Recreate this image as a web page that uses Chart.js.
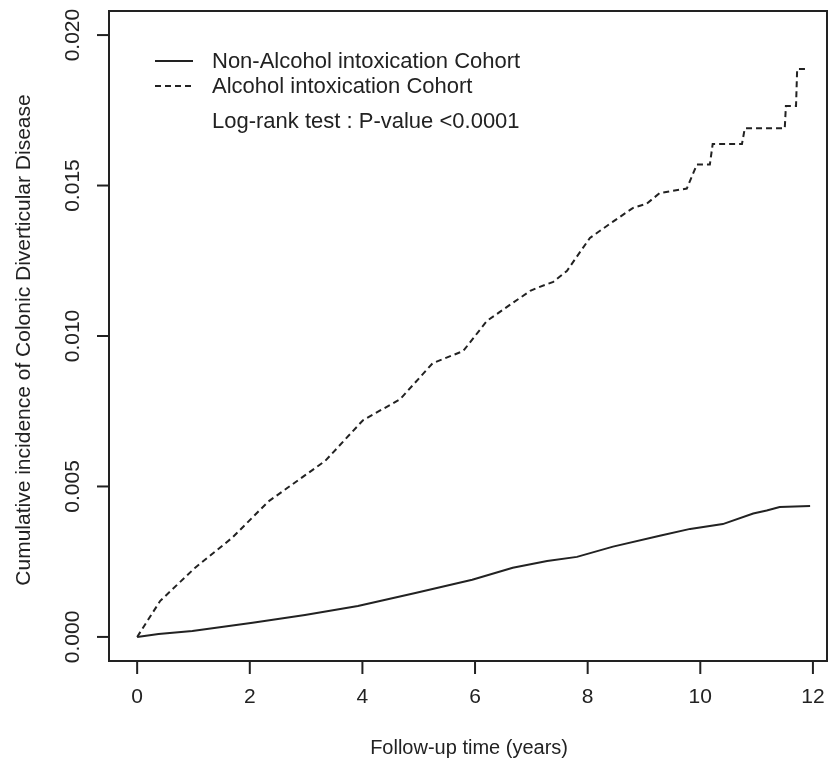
<!DOCTYPE html>
<html>
<head>
<meta charset="utf-8">
<script src="https://cdn.jsdelivr.net/npm/chart.js@4/dist/chart.umd.min.js"></script>
<style>
  html, body { margin: 0; padding: 0; background: #fff; }
  #wrap { width: 829px; height: 765px; }
</style>
</head>
<body>
<div id="wrap"><canvas id="km"></canvas></div>
<script>
// follow-up time (years) and cumulative incidence
const alcoholYears = [0, 0.41, 1.03, 1.69, 2.33, 3.34, 4.01, 4.67, 5.25, 5.79, 6.21, 6.67, 6.98, 7.10, 7.39, 7.63, 8.04, 8.45, 8.80, 9.05, 9.28, 9.76, 9.94, 10.17, 10.22, 10.74, 10.79, 11.50, 11.52, 11.70, 11.72, 11.90];
const alcoholRisk  = [0, 0.0012, 0.0023, 0.0033, 0.0045, 0.00585, 0.0072, 0.0079, 0.0091, 0.0095, 0.0105, 0.0111, 0.0115, 0.0116, 0.0118, 0.01216, 0.01326, 0.0138, 0.01425, 0.0144, 0.01475, 0.0149, 0.0157, 0.0157, 0.01638, 0.01638, 0.0169, 0.0169, 0.01764, 0.01764, 0.01887, 0.01887];

const nonAlcoholYears = [0, 0.38, 0.98, 2.05, 2.98, 3.92, 4.94, 5.95, 6.67, 7.28, 7.81, 8.45, 9.28, 9.82, 10.40, 10.94, 11.18, 11.41, 11.95];
const nonAlcoholRisk  = [0, 0.0001, 0.0002, 0.00047, 0.00073, 0.00103, 0.00146, 0.0019, 0.0023, 0.00252, 0.00266, 0.0030, 0.00336, 0.00359, 0.00375, 0.0041, 0.0042, 0.00432, 0.00435];

const xTicks = [0, 2, 4, 6, 8, 10, 12];
const yTicks = [0, 0.005, 0.010, 0.015, 0.020];
const yTickLabels = ['0.000', '0.005', '0.010', '0.015', '0.020'];

const seriesNames = ['Non-Alcohol intoxication Cohort', 'Alcohol intoxication Cohort'];
const testNote = 'Log-rank test : P-value <0.0001';
const xTitle = 'Follow-up time (years)';
const yTitle = 'Cumulative incidence of Colonic Diverticular Disease';

const ink = '#222';
const family = '"Liberation Sans", Arial, sans-serif';
const dash = [6, 4];

const toPoints = (xs, ys) => xs.map((x, i) => ({ x: x, y: ys[i] }));

// R style frame, ticks, labels and legend
const rAxes = {
    id: 'rAxes',
    afterDraw(chart) {
        const c = chart.ctx;
        const a = chart.chartArea;
        const sx = chart.scales.x;
        const sy = chart.scales.y;
        c.save();
        c.strokeStyle = ink;
        c.fillStyle = ink;
        c.lineWidth = 2;
        c.strokeRect(a.left, a.top, a.right - a.left, a.bottom - a.top);

        c.textAlign = 'center';
        c.textBaseline = 'middle';
        c.font = '21px ' + family;
        xTicks.forEach(v => {
            const px = sx.getPixelForValue(v);
            c.beginPath();
            c.moveTo(px, a.bottom);
            c.lineTo(px, a.bottom + 13);
            c.stroke();
            c.fillText(String(v), px, 697);
        });
        yTicks.forEach((v, i) => {
            const py = sy.getPixelForValue(v);
            c.beginPath();
            c.moveTo(a.left - 12, py);
            c.lineTo(a.left, py);
            c.stroke();
            c.save();
            c.translate(73, py);
            c.rotate(-Math.PI / 2);
            c.fillText(yTickLabels[i], 0, 0);
            c.restore();
        });

        c.font = '20px ' + family;
        const xMid = (sx.getPixelForValue(xTicks[0]) + sx.getPixelForValue(xTicks[xTicks.length - 1])) / 2;
        c.fillText(xTitle, xMid - 6, 748);
        c.font = '21px ' + family;
        const yMid = (sy.getPixelForValue(yTicks[0]) + sy.getPixelForValue(yTicks[yTicks.length - 1])) / 2;
        c.save();
        c.translate(24, yMid + 4);
        c.rotate(-Math.PI / 2);
        c.fillText(yTitle, 0, 0);
        c.restore();

        // legend
        c.font = '22px ' + family;
        c.textAlign = 'left';
        c.lineWidth = 2;
        [61, 86].forEach((ly, i) => {
            c.setLineDash(i === 1 ? dash : []);
            c.beginPath();
            c.moveTo(155, ly);
            c.lineTo(193, ly);
            c.stroke();
            c.fillText(seriesNames[i], 212, ly + 1);
        });
        c.setLineDash([]);
        c.fillText(testNote, 212, 122);
        c.restore();
    }
};

new Chart(document.getElementById('km'), {
    type: 'line',
    data: {
        datasets: [
            {
                label: seriesNames[0],
                data: toPoints(nonAlcoholYears, nonAlcoholRisk),
                borderColor: ink,
                borderWidth: 2,
                pointRadius: 0,
                tension: 0,
                fill: false
            },
            {
                label: seriesNames[1],
                data: toPoints(alcoholYears, alcoholRisk),
                borderColor: ink,
                borderWidth: 2,
                borderDash: dash,
                pointRadius: 0,
                tension: 0,
                fill: false
            }
        ]
    },
    options: {
        responsive: true,
        maintainAspectRatio: false,
        animation: false,
        layout: { padding: { left: 109, right: 2, top: 11, bottom: 104 } },
        plugins: {
            legend: { display: false },
            tooltip: { enabled: false }
        },
        scales: {
            x: { type: 'linear', display: false, min: -0.5, max: 12.25 },
            y: { type: 'linear', display: false, min: -0.0008, max: 0.0208 }
        }
    },
    plugins: [rAxes]
});
</script>
</body>
</html>
